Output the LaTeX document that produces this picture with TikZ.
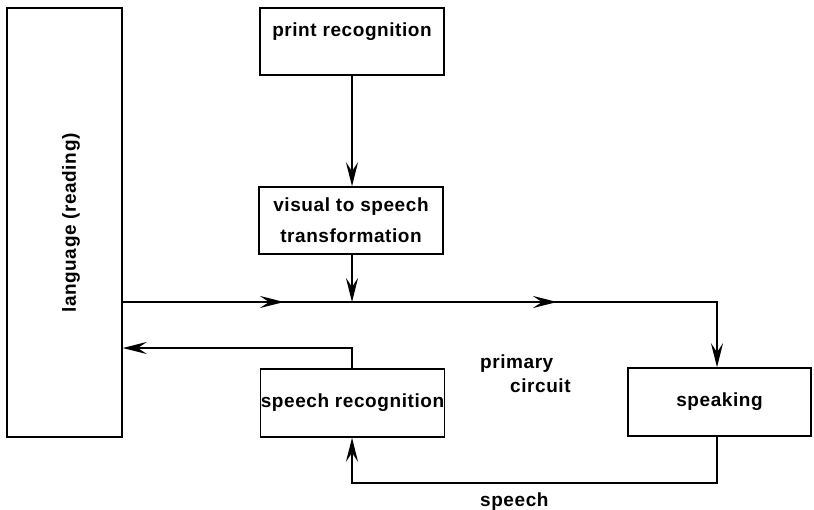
\documentclass[tikz,border=0pt]{standalone}
\usepackage{fontspec}
\setmainfont{Liberation Sans}[LetterSpace=3]
\usetikzlibrary{arrows.meta}
\begin{document}
\begin{tikzpicture}[x=1pt,y=-1pt,
  every node/.style={font=\fontsize{19}{31}\selectfont\bfseries},
  box/.style={draw,line width=1.5pt,minimum width=184pt,minimum height=67pt,inner sep=0pt,align=center},
  wire/.style={line width=1.5pt},
  arr/.style={wire,-{Stealth[length=24pt,width=12pt,inset=9pt]}}]
\useasboundingbox (0,0) rectangle (814,509);
% boxes
\node[box,minimum width=115pt,minimum height=429pt] (lang) at (64.5,222.5) {};
\node[rotate=90] (langtext) at (71,223) {language (reading)};
\node[box,text depth=23pt] (print) at (352,41.5) {print recognition};
\node[box] (visual) at (351,220.5) {visual to speech\\transformation};
\node[box,minimum height=68pt] (srec) at (352.5,403) {speech recognition};
\node[box,minimum height=68pt,minimum width=183pt] (speak) at (719.5,402) {speaking};
% labels
\node[anchor=base west,inner sep=0pt] (prim) at (480,368) {primary};
\node[anchor=base west,inner sep=0pt] (circ) at (510,392) {circuit};
\node[anchor=base west,inner sep=0pt] (spl) at (480,506) {speech};
% coordinates
\coordinate (j1) at (352,302);
\coordinate (m1a) at (250,302);
\coordinate (m1) at (284,302);
\coordinate (m2a) at (520,302);
\coordinate (m2) at (557,302);
\coordinate (c1) at (717,302);
\coordinate (fb) at (352,348);
\coordinate (c2) at (717,483);
\coordinate (c3) at (352,483);
% connectors
\draw[arr] (print.south) -- (print.south |- visual.north);
\draw[arr] (visual.south -| j1) -- (j1);
\draw[arr] (lang.east |- j1) -- (c1) -- (c1 |- speak.north);
\draw[arr] (m1a) -- (m1);
\draw[arr] (m2a) -- (m2);
\draw[arr] (srec.north -| fb) -- (fb) -- (lang.east |- fb);
\draw[arr] (c2 |- speak.south) -- (c2) -- (c3) -- (c3 |- srec.south);
\end{tikzpicture}
\end{document}
